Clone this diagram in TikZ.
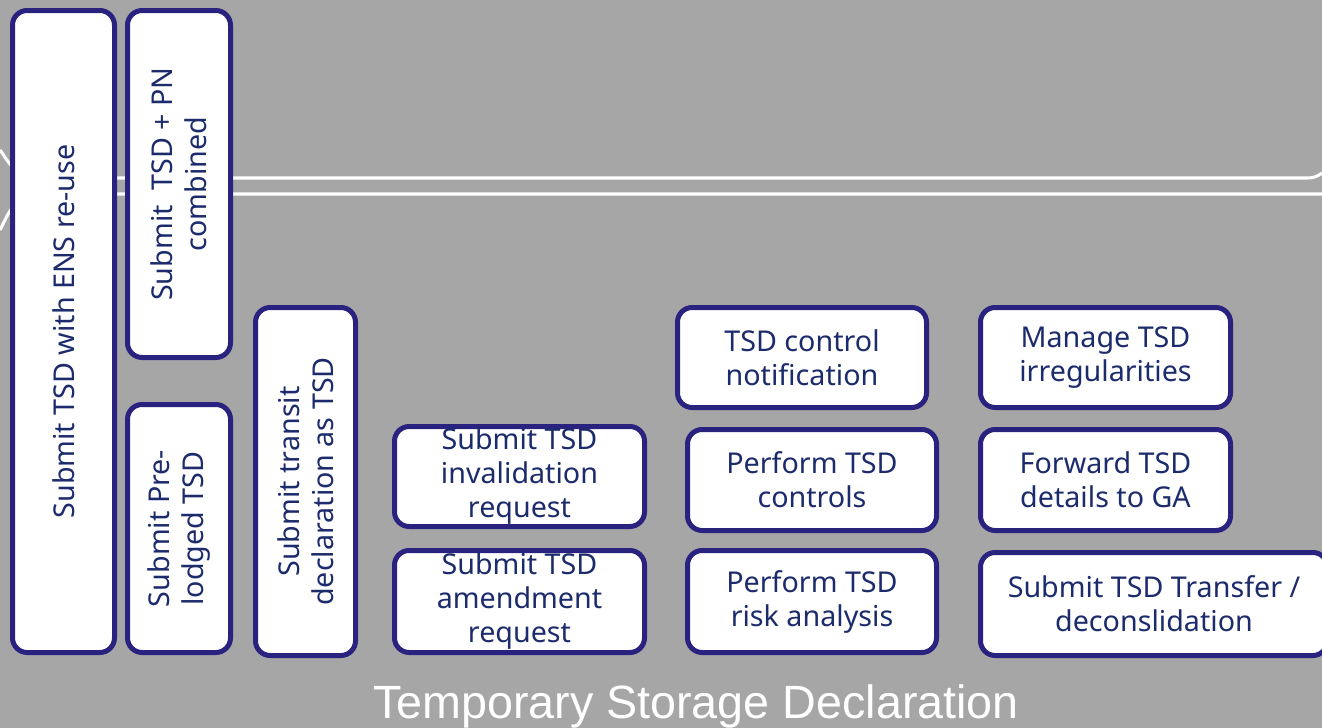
\documentclass[tikz,border=0pt]{standalone}
\usepackage{fontspec}
\setmainfont{Noto Sans}
\newfontfamily\titlefont{Liberation Sans}
\definecolor{bggray}{HTML}{A6A6A6}
\definecolor{boxborder}{HTML}{29237F}
\definecolor{boxtext}{HTML}{1C2B6B}
\tikzset{
  box/.style={draw=boxborder, fill=white, line width=3.75pt, rounded corners=11pt,
    inner sep=0pt, align=center, text=boxtext,
    font=\fontsize{21.5}{25.5}\selectfont},
  whiteline/.style={draw=white, line width=2.3pt},
}
\begin{document}
\begin{tikzpicture}[x=0.75pt,y=-0.75pt]
\fill[bggray] (0,0) rectangle (1322,728);
\useasboundingbox (0,0) rectangle (1322,728);
% white lines behind boxes
\draw[whiteline] (0,150) .. controls (8,160) and (14,178) .. (40,178) -- (1308,178) .. controls (1314,178) and (1318,176) .. (1322,173);
\draw[whiteline] (0,230) .. controls (8,215) and (14,194) .. (40,194) -- (1322,194);
% boxes
\node[box, minimum width=481.5pt, minimum height=76.5pt, rotate=90] (b1) at (63.5,331.5) {Submit TSD with ENS re-use};
\node[box, minimum width=260.25pt, minimum height=77.25pt, rotate=90] (b2) at (179,184) {Submit\ \ TSD + PN\\combined};
\node[box, minimum width=186pt, minimum height=77.25pt, rotate=90] (b3) at (179,528.5) {Submit Pre-\\lodged TSD};
\node[box, minimum width=261pt, minimum height=75pt, rotate=90] (b4) at (305.5,481.5) {Submit transit\\declaration as TSD};
\node[box, minimum width=187.5pt, minimum height=75pt] (b5) at (519.5,476.5) {Submit TSD\\invalidation\\request};
\node[box, minimum width=187.5pt, minimum height=76.5pt] (b6) at (519.5,601.5) {Submit TSD\\amendment\\request};
\node[box, minimum width=186.75pt, minimum height=75pt] (b7) at (802,357.5) {TSD control\\notification};
\node[box, minimum width=186.75pt, minimum height=75.75pt] (b8) at (812,480) {Perform TSD\\controls};
\node[box, minimum width=186.75pt, minimum height=76.5pt] (b9) at (812,601.5) {Perform TSD\\risk analysis};
\node[box, minimum width=187.5pt, minimum height=75pt] (b10) at (1105.5,357.5) {Manage TSD\\irregularities};
\node[box, minimum width=187.5pt, minimum height=75.75pt] (b11) at (1105.5,480) {Forward TSD\\details to GA};
\node[box, minimum width=260.25pt, minimum height=77.25pt] (b12) at (1154,604) {Submit TSD Transfer /\\deconslidation};
% title
\node[text=white, font=\titlefont\fontsize{35}{40}\selectfont, inner sep=0pt] (title) at (696,706) {Temporary Storage Declaration};
\end{tikzpicture}
\end{document}
